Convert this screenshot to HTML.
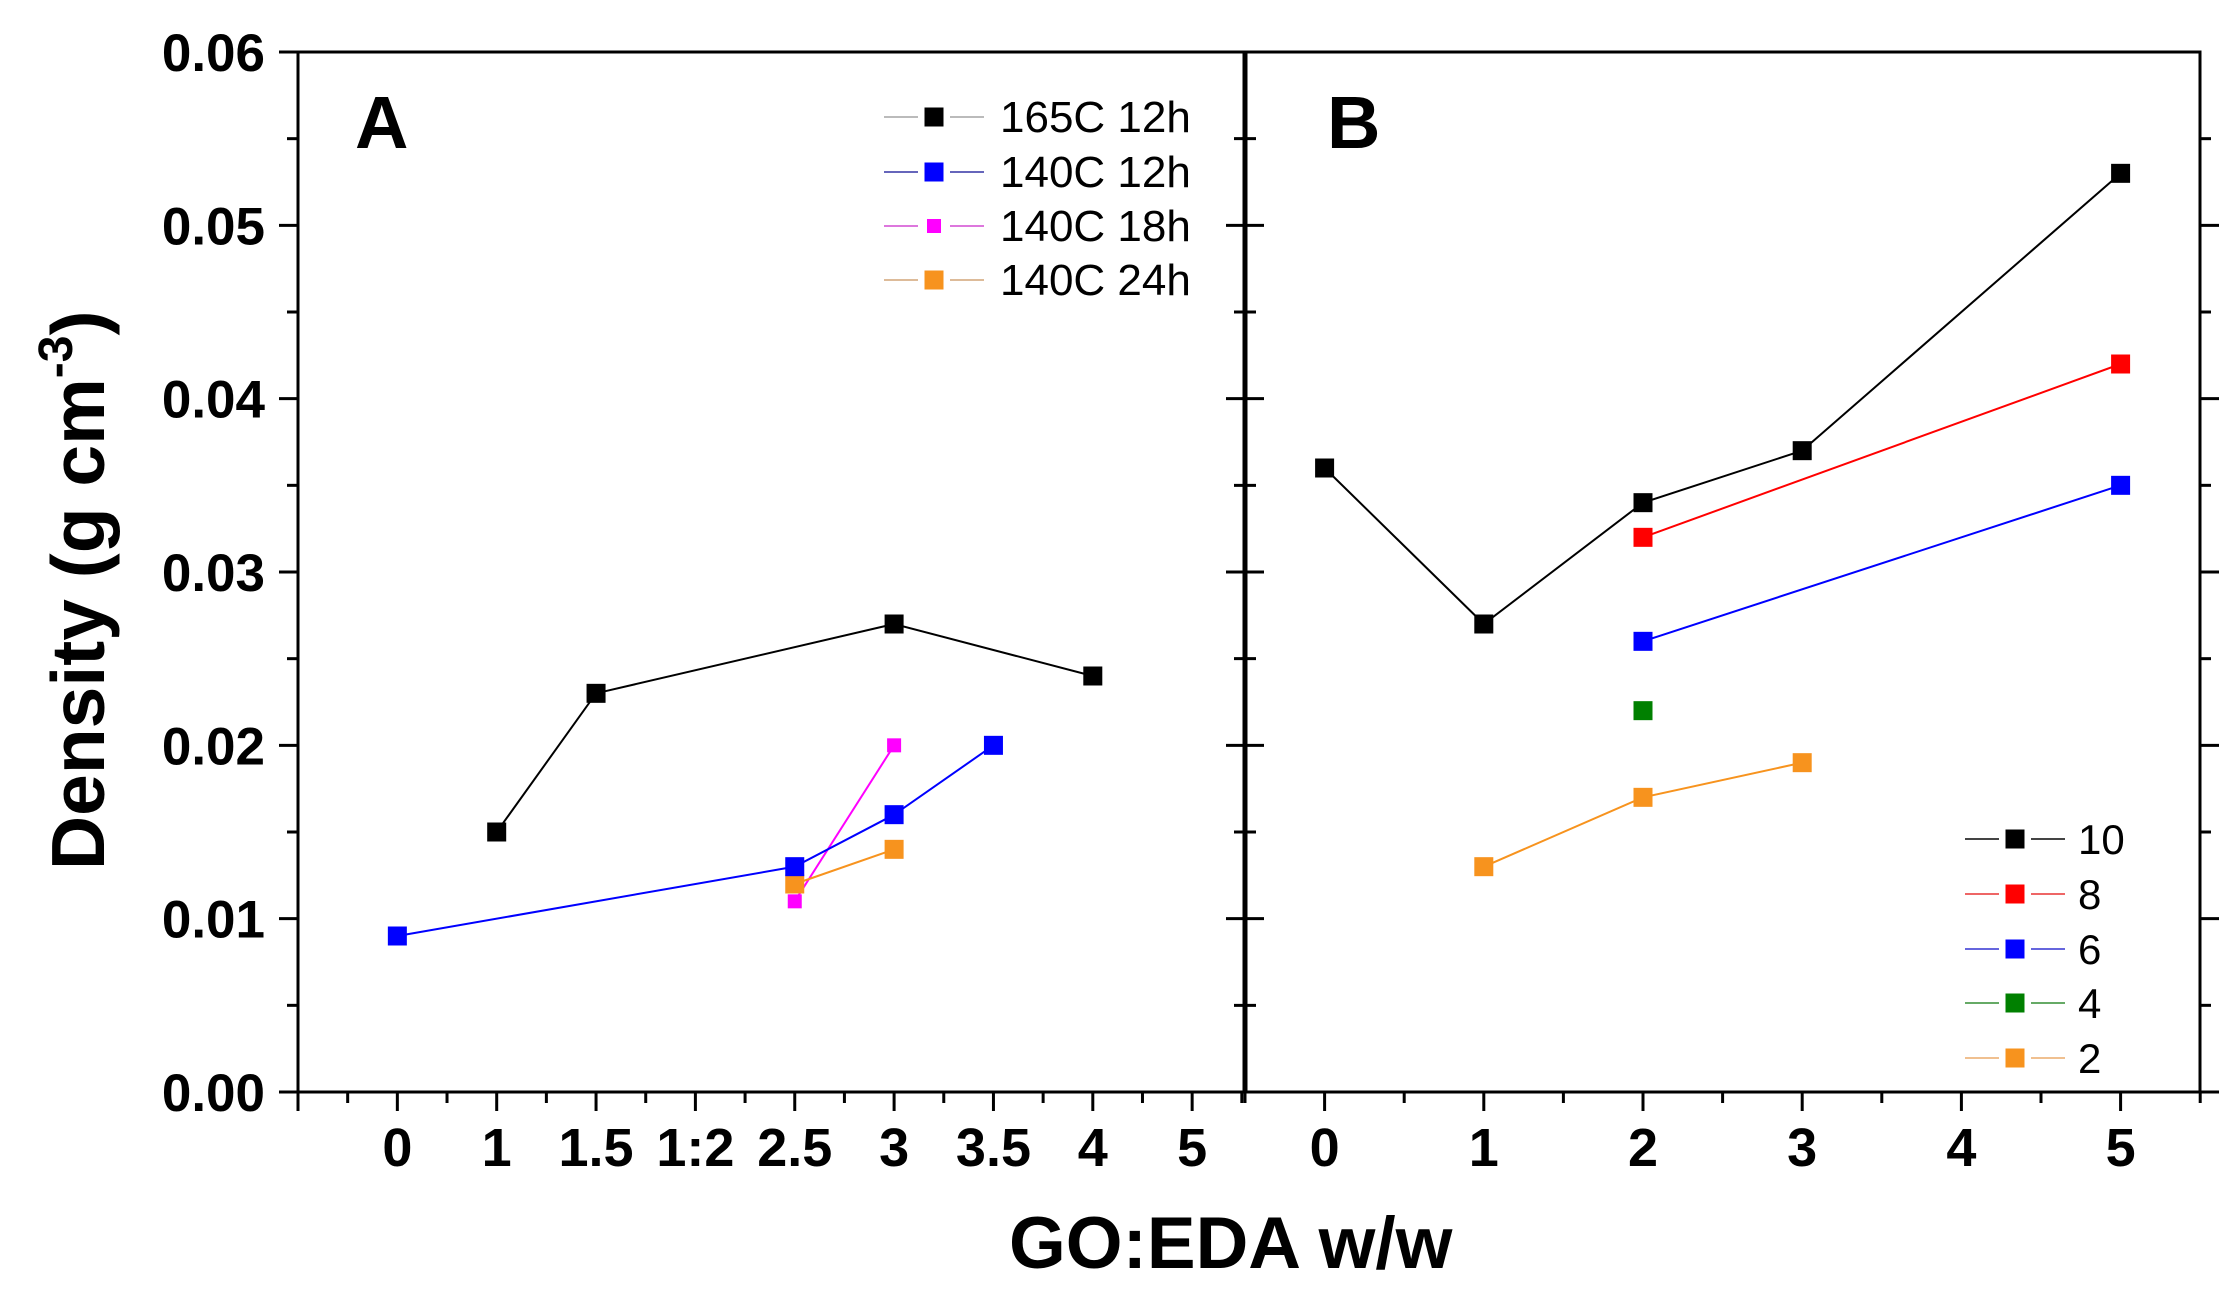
<!DOCTYPE html>
<html><head><meta charset="utf-8"><style>html,body{margin:0;padding:0;background:#fff}svg{display:block}</style></head>
<body>
<svg id="s" xmlns="http://www.w3.org/2000/svg" width="2233" height="1292" viewBox="0 0 2233 1292" font-family="Liberation Sans, Arial, sans-serif"></svg>
<script>
const s=document.getElementById('s');let h='';
const Y0=1092,TOP=52,L=298,DIV=1245,R=2200;
const y=v=>Y0-v*17333.3;
const xa=i=>L+i*99.35;
const xb=v=>DIV+(v+0.5)*159.2;
h+=`<rect x="${L}" y="${TOP}" width="${R-L}" height="${Y0-TOP}" fill="none" stroke="#000" stroke-width="3"/>`;
h+=`<line x1="${DIV}" y1="${TOP}" x2="${DIV}" y2="${Y0}" stroke="#000" stroke-width="5"/>`;
for(let k=0;k<=12;k++){const v=k*0.005,yy=y(v),maj=k%2==0,len=maj?19:11;
 h+=`<line x1="${L-len}" y1="${yy}" x2="${L}" y2="${yy}" stroke="#000" stroke-width="3"/>`;
 if(k<12){h+=`<line x1="${DIV-len}" y1="${yy}" x2="${DIV+len}" y2="${yy}" stroke="#000" stroke-width="3"/>`;
 h+=`<line x1="${R}" y1="${yy}" x2="${R+len}" y2="${yy}" stroke="#000" stroke-width="3"/>`;}
 if(maj)h+=`<text x="265" y="${yy+19}" font-size="53" font-weight="bold" text-anchor="end">${v.toFixed(2)}</text>`;}
const la=['0','1','1.5','1:2','2.5','3','3.5','4','5'];
for(let k=0;k<=19;k++){const xx=L+k*49.675,maj=k%2==0;
 h+=`<line x1="${xx}" y1="${Y0}" x2="${xx}" y2="${Y0+(maj?19:11)}" stroke="#000" stroke-width="3"/>`;}
la.forEach((t,i)=>h+=`<text x="${xa(i+1)}" y="1166" font-size="54" font-weight="bold" text-anchor="middle">${t}</text>`);
for(let k=0;k<=12;k++){const v=-0.5+k*0.5,xx=xb(v),maj=k%2==1;
 h+=`<line x1="${xx}" y1="${Y0}" x2="${xx}" y2="${Y0+(maj?19:11)}" stroke="#000" stroke-width="3"/>`;}
[0,1,2,3,4,5].forEach(v=>h+=`<text x="${xb(v)}" y="1166" font-size="54" font-weight="bold" text-anchor="middle">${v}</text>`);
h+=`<text x="1009" y="1268" font-size="73" font-weight="bold">GO:EDA w/w</text>`;
h+=`<text transform="translate(104,870) rotate(-90)" font-size="75" font-weight="bold">Density (g cm<tspan font-size="48" dy="-32">-3</tspan><tspan dy="32">)</tspan></text>`;
h+=`<text x="355" y="148" font-size="74" font-weight="bold">A</text>`;
h+=`<text x="1327" y="148" font-size="74" font-weight="bold">B</text>`;
function ser(pts,c,sz){let d=pts.map(p=>p.join(',')).join(' ');
 if(pts.length>1)h+=`<polyline points="${d}" fill="none" stroke="${c}" stroke-width="2"/>`;
 pts.forEach(p=>h+=`<rect x="${p[0]-sz/2}" y="${p[1]-sz/2}" width="${sz}" height="${sz}" fill="${c}"/>`);}
const BK='#000',BL='#0000ff',PK='#ff00ff',OR='#f7931e',RD='#ff0000',GR='#008000';
ser([[2,.015],[3,.023],[6,.027],[8,.024]].map(p=>[xa(p[0]),y(p[1])]),BK,19);
ser([[5,.011],[6,.020]].map(p=>[xa(p[0]),y(p[1])]),PK,14);
ser([[5,.012],[6,.014]].map(p=>[xa(p[0]),y(p[1])]),OR,19);
ser([[1,.009],[5,.013],[6,.016],[7,.020]].map(p=>[xa(p[0]),y(p[1])]),BL,19);
ser([[0,.036],[1,.027],[2,.034],[3,.037],[5,.053]].map(p=>[xb(p[0]),y(p[1])]),BK,19);
ser([[2,.032],[5,.042]].map(p=>[xb(p[0]),y(p[1])]),RD,19);
ser([[2,.026],[5,.035]].map(p=>[xb(p[0]),y(p[1])]),BL,19);
ser([[2,.022]].map(p=>[xb(p[0]),y(p[1])]),GR,19);
ser([[1,.013],[2,.017],[3,.019]].map(p=>[xb(p[0]),y(p[1])]),OR,19);
function leg(x0,m,tx,yy,c,lc,sz,t,fs){
 h+=`<line x1="${x0}" y1="${yy}" x2="${m-16}" y2="${yy}" stroke="${lc}" stroke-width="2"/>`;
 h+=`<line x1="${m+16}" y1="${yy}" x2="${2*m-x0}" y2="${yy}" stroke="${lc}" stroke-width="2"/>`;
 h+=`<rect x="${m-sz/2}" y="${yy-sz/2}" width="${sz}" height="${sz}" fill="${c}"/>`;
 h+=`<text x="${tx}" y="${yy+15}" font-size="${fs}">${t}</text>`;}
leg(884,934,1000,117,BK,'#bbb',19,'165C 12h',44);
leg(884,934,1000,172,BL,'#6666bb',19,'140C 12h',44);
leg(884,934,1000,226,PK,'#dd77dd',14,'140C 18h',44);
leg(884,934,1000,280,OR,'#ddbb99',19,'140C 24h',44);
leg(1965,2015,2078,839,BK,'#444',19,'10',42);
leg(1965,2015,2078,894,RD,'#ee6666',19,'8',42);
leg(1965,2015,2078,949,BL,'#6666dd',19,'6',42);
leg(1965,2015,2078,1003,GR,'#66aa66',19,'4',42);
leg(1965,2015,2078,1058,OR,'#f0c090',19,'2',42);
s.innerHTML=h;
</script>
</body></html>
